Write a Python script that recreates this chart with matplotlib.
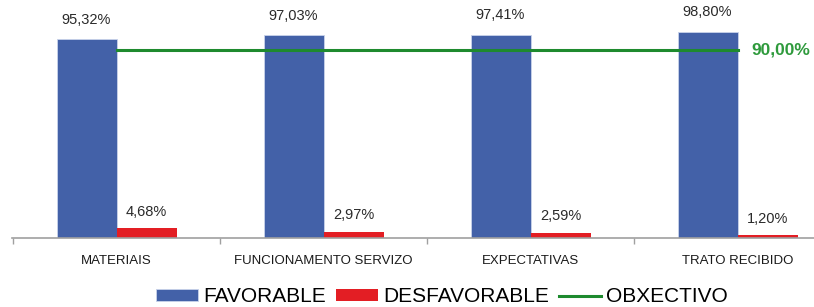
import matplotlib.pyplot as plt
import numpy as np

categorias = ['MATERIAIS', 'FUNCIONAMENTO SERVIZO', 'EXPECTATIVAS', 'TRATO RECIBIDO']
favorable = [95.32, 97.03, 97.41, 98.80]
desfavorable = [4.68, 2.97, 2.59, 1.20]
obxectivo = 90.00

azul = '#4361a8'
vermello = '#e31e24'
verde = '#1e8a2e'

plt.rcParams['font.family'] = ['Liberation Sans', 'DejaVu Sans']

fig = plt.figure(figsize=(8.14, 3.07), dpi=100)
# eixo en pixeles: x 12..814, base en y=238
ax = fig.add_axes([12 / 814, (307 - 238) / 307, 802 / 814, 206 / 307])

x = np.arange(len(categorias))
ancho = 0.29

b1 = ax.bar(x - ancho / 2, favorable, ancho, color=azul, edgecolor='#c9d3ea', linewidth=0.6,
            label='FAVORABLE')
b2 = ax.bar(x + ancho / 2, desfavorable, ancho, color=vermello, label='DESFAVORABLE')
l1, = ax.plot([x[0], x[-1]], [obxectivo, obxectivo], color=verde, linewidth=2.2,
              label='OBXECTIVO')

for xi, v in zip(x, favorable):
    ax.annotate(f'{v:.2f}%'.replace('.', ','), (xi - ancho / 2, v), xytext=(0, 9),
                textcoords='offset points', ha='center', va='bottom',
                fontsize=10.5, color='#2a2a2a')
for xi, v in zip(x, desfavorable):
    ax.annotate(f'{v:.2f}%'.replace('.', ','), (xi + ancho / 2, v), xytext=(0, 7),
                textcoords='offset points', ha='center', va='bottom',
                fontsize=10.5, color='#2a2a2a')
ax.text(x[-1] + 0.065, obxectivo, f'{obxectivo:.2f}%'.replace('.', ','), ha='left',
        va='center', fontsize=12.5, fontweight='bold', color='#2e9a3c')

for s in ['top', 'right', 'left']:
    ax.spines[s].set_visible(False)
ax.spines['bottom'].set_color('#a0a0a0')
ax.spines['bottom'].set_linewidth(1.2)
ax.set_yticks([])

ax.set_xticks(np.arange(-0.5, len(categorias), 1.0))
ax.set_xticklabels([])
ax.tick_params(axis='x', length=4, color='#a0a0a0', width=1)
ax.set_xticks(x, minor=True)
ax.set_xticklabels(categorias, minor=True, fontsize=9.5, color='#1a1a1a')
ax.tick_params(axis='x', which='minor', length=0, pad=12.5)

ax.set_xlim(-0.505, -0.505 + 802 / 207)
ax.set_ylim(0, 206 / 2.087)

fig.legend([b1, b2, l1], ['FAVORABLE', 'DESFAVORABLE', 'OBXECTIVO'],
           loc='center', bbox_to_anchor=(442 / 814, 1 - 297 / 307), ncol=3, frameon=False,
           fontsize=15, handlelength=2.0, handleheight=0.5, columnspacing=0.5,
           handletextpad=0.25, borderaxespad=0)

fig.savefig('out.png', dpi=100)
